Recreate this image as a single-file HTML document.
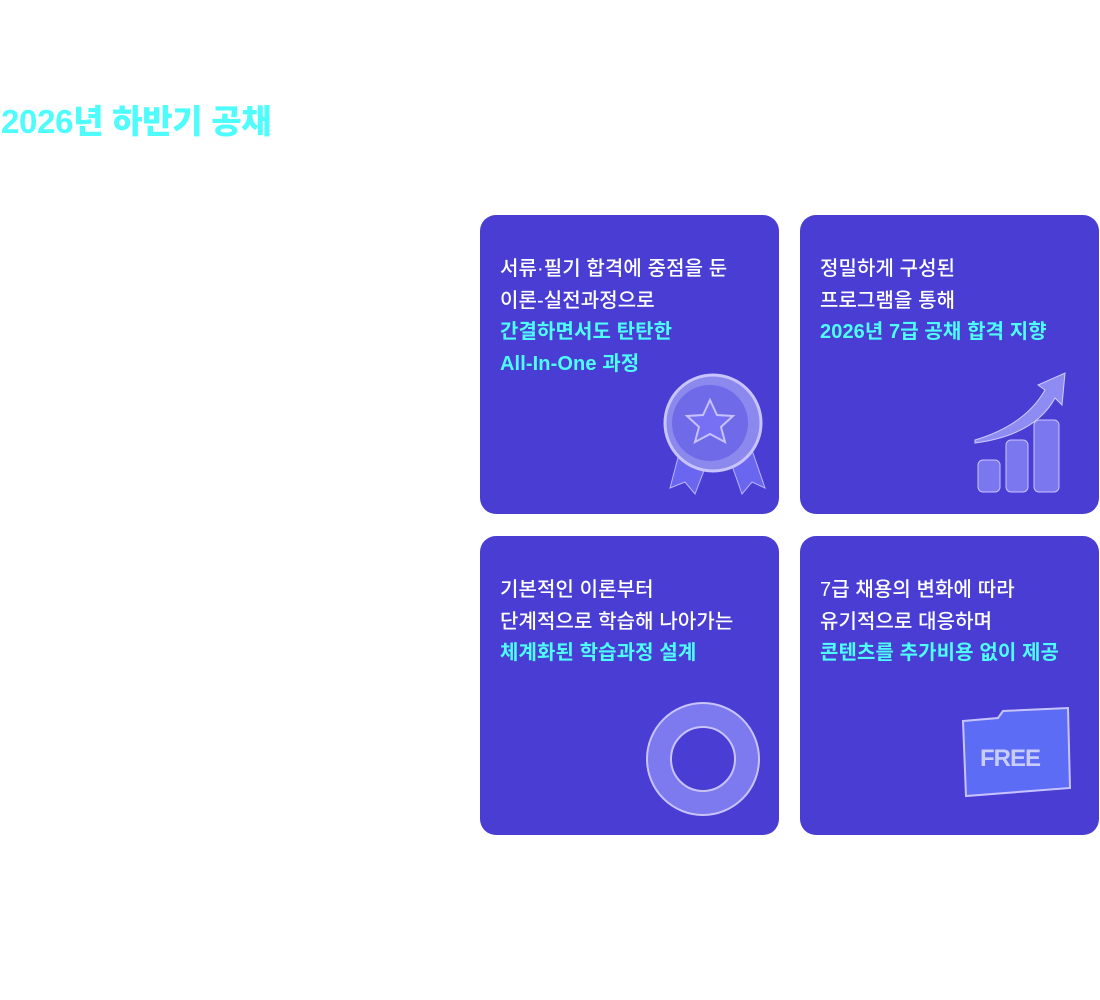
<!DOCTYPE html>
<html><head><meta charset="utf-8"><style>
body{margin:0;width:1100px;height:1000px;background:#fff;position:relative;overflow:hidden;font-family:"Liberation Sans","Noto Sans CJK KR",sans-serif}
h1{position:absolute;left:1px;top:102px;margin:0;font-size:33px;font-weight:900;color:#4efcfc;letter-spacing:-0.3px;line-height:40px}
.c{position:absolute;width:299px;height:299px;background:#4a3dd3;border-radius:16px}
.t{position:absolute;left:20px;top:39px;font-size:20px;line-height:31.5px;color:#fff;letter-spacing:0.1px;font-weight:500;white-space:nowrap}
.t b{color:#4efcfc;font-weight:700}
svg{position:absolute}
</style></head><body>
<h1>2026년 하반기 공채</h1>
<div class="c" style="left:480px;top:215px"><div class="t">서류·필기 합격에 중점을 둔<br>이론-실전과정으로<br><b>간결하면서도 탄탄한<br>All-In-One 과정</b></div>
<svg style="left:180px;top:155px" width="110" height="130"><path d="M20 80 L10 118 L25 112 L35 124 L48 90Z M70 90 L82 124 L92 112 L105 118 L92 80Z" fill="#6b66f0" stroke="#b9b4ff"/><circle cx="53" cy="53" r="48" fill="#8b88ee" stroke="#c9c4ff" stroke-width="3"/><circle cx="50" cy="53" r="38" fill="#6e6ae8"/><polygon points="50,30 57,45 73,46 61,57 65,72 50,64 35,72 39,57 27,46 43,45" fill="#7770f5" stroke="#c7c1ff" stroke-width="2"/></svg></div>
<div class="c" style="left:800px;top:215px"><div class="t">정밀하게 구성된<br>프로그램을 통해<br><b>2026년 7급 공채 합격 지향</b></div>
<svg style="left:170px;top:150px" width="110" height="135"><rect x="8" y="95" width="22" height="32" rx="5" fill="#7b77ee" stroke="#c8c3ff"/><rect x="36" y="75" width="22" height="52" rx="5" fill="#7b77ee" stroke="#c8c3ff"/><rect x="64" y="55" width="25" height="72" rx="5" fill="#7b77ee" stroke="#c8c3ff"/><path d="M5 75 Q55 60 75 25 L68 20 L95 8 L92 40 L85 33 Q65 70 5 78Z" fill="#8e8bf2" stroke="#d0ccff"/></svg></div>
<div class="c" style="left:480px;top:536px"><div class="t">기본적인 이론부터<br>단계적으로 학습해 나아가는<br><b>체계화된 학습과정 설계</b></div>
<svg style="left:165px;top:165px" width="115" height="115"><circle cx="58" cy="58" r="44" fill="none" stroke="#7d79ee" stroke-width="24"/><circle cx="58" cy="58" r="56" fill="none" stroke="#c8c3ff" stroke-width="2"/><circle cx="58" cy="58" r="32" fill="none" stroke="#c8c3ff" stroke-width="2"/></svg></div>
<div class="c" style="left:800px;top:536px"><div class="t">7급 채용의 변화에 따라<br>유기적으로 대응하며<br><b>콘텐츠를 추가비용 없이 제공</b></div>
<svg style="left:158px;top:170px" width="120" height="100"><path d="M5 15 L40 12 L45 5 L110 2 L112 82 L8 90Z" fill="#5d6cf5" stroke="#c8c3ff" stroke-width="2"/><text x="22" y="60" font-family="Liberation Sans" font-weight="700" font-size="24" fill="#c9ccff" letter-spacing="-1">FREE</text></svg></div>
</body></html>
